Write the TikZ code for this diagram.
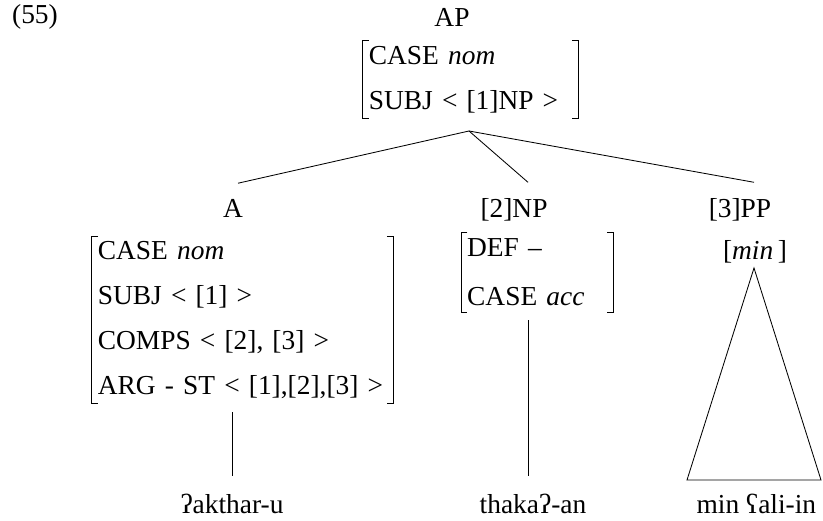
\documentclass[tikz,border=0pt]{standalone}
\usepackage{fontspec}
\setmainfont{Liberation Serif}
\usepackage{tikz}

\tikzset{
  cat/.style={font=\fontsize{19.5}{23}\selectfont, anchor=base, inner xsep=0pt, inner ysep=0.41cm},
  word/.style={font=\fontsize{19.5}{23}\selectfont, anchor=base, inner xsep=0pt, inner ysep=0.43cm},
  avm/.style={font=\fontsize{19.5}{32}\selectfont, align=left, inner xsep=0.15cm, inner ysep=0pt},
  brk/.style={line width=0.6pt},
  branch/.style={line width=0.6pt},
}

% square brackets round a feature matrix
\newcommand{\avmbrackets}[1]{%
  \draw[brk] ([xshift=0.16cm]#1.north west) -- (#1.north west) -- (#1.south west) -- ([xshift=0.16cm]#1.south west);
  \draw[brk] ([xshift=-0.16cm]#1.north east) -- (#1.north east) -- (#1.south east) -- ([xshift=-0.16cm]#1.south east);
}

\begin{document}
\begin{tikzpicture}
\useasboundingbox (0,0) rectangle (20.575,-13.025);

% Mother node
\node[cat, inner ysep=0pt] (exno) at (0.875,-0.6) {(55)};
\node[cat, inner ysep=0pt] (ap) at (11.3,-0.675) {AP};
\node[avm, text width=5.075cm, minimum height=1.925cm] (apf) at (11.76,-1.99) {CASE \textit{nom}\\SUBJ < [1]NP >};
\avmbrackets{apf}
\coordinate (apx) at (11.725,-3.275);

% Daughters
\node[cat] (a) at (5.825,-5.45) {A};
\node[cat] (np) at (12.85,-5.45) {[2]NP};
\node[cat] (pp) at (18.5,-5.45) {[3]PP};
\draw[branch] (apx) -- ([xshift=0.125cm]a.north);
\draw[branch] (apx) -- ([xshift=0.35cm]np.north);
\draw[branch] (apx) -- ([xshift=0.35cm]pp.north);

% Head A
\node[avm, text width=7.225cm, minimum height=4.15cm] (af) at (6.06,-8.0) {CASE \textit{nom}\\SUBJ < [1] >\\COMPS < [2], [3] >\\\mbox{ARG - ST < [1],[2],[3] >}};
\avmbrackets{af}
\node[word] (aword) at (5.8,-12.825) {ʔakthar-u};
\draw[branch] ([yshift=-0.225cm]af.south -| aword.north) -- (aword.north);

% Complement NP
\node[avm, text width=3.5cm, minimum height=1.975cm] (npf) at (13.43,-6.81) {DEF –\\[3pt]CASE \textit{acc}};
\avmbrackets{npf}
\node[word] (npword) at (13.325,-12.825) {thakaʔ-an};
\coordinate (npcol) at (13.2,-8.0);
\draw[branch] (npcol) -- (npword.north -| npcol);

% Complement PP
\node[cat, inner ysep=0pt] (ppf) at (18.875,-6.5) {[\textit{min}\,]};
\coordinate (tritop) at (18.85,-6.7);
\coordinate (trileft) at (17.175,-12.0);
\coordinate (triright) at (20.525,-12.0);
\draw[branch] (tritop) -- (trileft) -- (triright) -- cycle;
\node[word] (ppword) at (18.91,-12.825) {min ʕali-in};
\end{tikzpicture}
\end{document}
